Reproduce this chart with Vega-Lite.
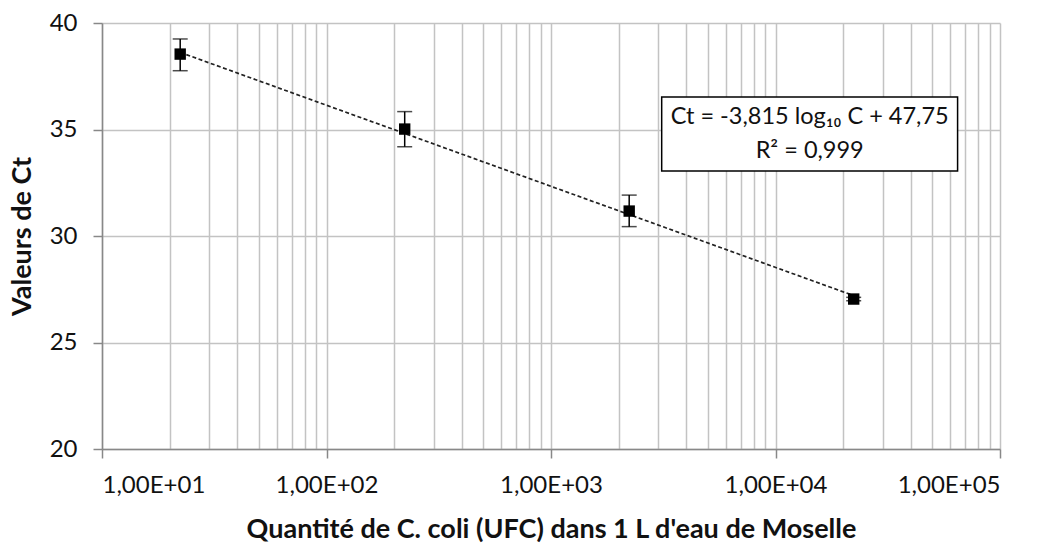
{
  "$schema": "https://vega.github.io/schema/vega-lite/v6.json",
  "width": 898,
  "height": 426,
  "autosize": "none",
  "padding": {"left": 102, "top": 23, "right": 53, "bottom": 94},
  "background": "white",
  "config": {
    "view": {"stroke": null},
    "font": "Lato",
    "axis": {"labelFont": "Lato", "titleFont": "Lato", "labelColor": "#111111", "titleColor": "#111111"}
  },
  "datasets": {
    "pts": [
      {"c": 22.3, "ct": 38.54, "lo": 37.76, "hi": 39.25},
      {"c": 223, "ct": 35.02, "lo": 34.19, "hi": 35.84},
      {"c": 2230, "ct": 31.17, "lo": 30.44, "hi": 31.92},
      {"c": 22300, "ct": 27.04, "lo": 26.96, "hi": 27.12}
    ],
    "trend": [
      {"c": 22.3, "ct": 38.62},
      {"c": 22300, "ct": 27.2}
    ],
    "box": [
      {"x1": 3112, "x2": 64730, "y1": 33.05, "y2": 36.53}
    ],
    "eq": [
      {"c": 14200, "ct": 35.59, "label": "Ct = -3,815 log₁₀ C + 47,75"},
      {"c": 14200, "ct": 33.99, "label": "R² = 0,999"}
    ]
  },
  "resolve": {"axis": {"x": "independent", "y": "independent"}},
  "layer": [
    {
      "data": {"name": "trend"},
      "mark": {"type": "line", "color": "#222222", "strokeWidth": 1.7, "strokeDash": [4, 2.5]},
      "encoding": {
        "x": {
          "field": "c", "type": "quantitative",
          "scale": {"type": "log", "domain": [10, 100000], "nice": false},
          "axis": {
            "orient": "bottom",
            "values": [10,20,30,40,50,60,70,80,90,100,200,300,400,500,600,700,800,900,1000,2000,3000,4000,5000,6000,7000,8000,9000,10000,20000,30000,40000,50000,60000,70000,80000,90000,100000],
            "grid": true, "gridColor": "#c3c3c3", "gridWidth": 1.5,
            "labels": false, "ticks": false, "domain": false, "title": null
          }
        },
        "y": {
          "field": "ct", "type": "quantitative",
          "scale": {"domain": [20, 40], "nice": false, "zero": false},
          "axis": {
            "orient": "left",
            "values": [20, 25, 30, 35, 40],
            "grid": true, "gridColor": "#c3c3c3", "gridWidth": 1.5,
            "domain": true, "domainColor": "#888888", "domainWidth": 1.5,
            "ticks": true, "tickColor": "#888888", "tickWidth": 1.5, "tickSize": 9,
            "labelFontSize": 24, "labelPadding": 16, "labelColor": "#111111",
            "title": "Valeurs de Ct", "titleFontSize": 27, "titleFontWeight": "bold", "titlePadding": 13
          }
        }
      }
    },
    {
      "data": {"name": "pts"},
      "mark": {"type": "rule", "color": "black", "strokeWidth": 1.5},
      "encoding": {
        "x": {
          "field": "c", "type": "quantitative",
          "scale": {"type": "log", "domain": [10, 100000], "nice": false},
          "axis": {
            "orient": "bottom",
            "values": [10, 100, 1000, 10000, 100000],
            "labelExpr": "'1,00E+0' + round(log(datum.value) / LN10)",
            "grid": false,
            "domain": true, "domainColor": "#888888", "domainWidth": 1.5,
            "ticks": true, "tickColor": "#888888", "tickWidth": 1.5, "tickSize": 9,
            "labelFontSize": 24, "labelPadding": 15, "labelColor": "#111111",
            "title": "Quantité de C. coli (UFC) dans 1 L d'eau de Moselle",
            "titleFontSize": 27, "titleFontWeight": "bold", "titlePadding": 19
          }
        },
        "y": {"field": "lo", "type": "quantitative", "scale": {"domain": [20, 40], "nice": false, "zero": false}, "axis": null},
        "y2": {"field": "hi"}
      }
    },
    {
      "data": {"name": "pts"},
      "mark": {"type": "tick", "orient": "horizontal", "color": "black", "thickness": 1.5, "size": 15},
      "encoding": {
        "x": {"field": "c", "type": "quantitative", "scale": {"type": "log", "domain": [10, 100000], "nice": false}, "axis": null},
        "y": {"field": "lo", "type": "quantitative", "scale": {"domain": [20, 40], "nice": false, "zero": false}, "axis": null}
      }
    },
    {
      "data": {"name": "pts"},
      "mark": {"type": "tick", "orient": "horizontal", "color": "black", "thickness": 1.5, "size": 15},
      "encoding": {
        "x": {"field": "c", "type": "quantitative", "scale": {"type": "log", "domain": [10, 100000], "nice": false}, "axis": null},
        "y": {"field": "hi", "type": "quantitative", "scale": {"domain": [20, 40], "nice": false, "zero": false}, "axis": null}
      }
    },
    {
      "data": {"name": "pts"},
      "mark": {"type": "point", "shape": "square", "filled": true, "color": "black", "size": 130, "opacity": 1},
      "encoding": {
        "x": {"field": "c", "type": "quantitative", "scale": {"type": "log", "domain": [10, 100000], "nice": false}, "axis": null},
        "y": {"field": "ct", "type": "quantitative", "scale": {"domain": [20, 40], "nice": false, "zero": false}, "axis": null}
      }
    },
    {
      "data": {"name": "box"},
      "mark": {"type": "rect", "fill": "white", "stroke": "black", "strokeWidth": 1.5},
      "encoding": {
        "x": {"field": "x1", "type": "quantitative", "scale": {"type": "log", "domain": [10, 100000], "nice": false}, "axis": null},
        "x2": {"field": "x2"},
        "y": {"field": "y1", "type": "quantitative", "scale": {"domain": [20, 40], "nice": false, "zero": false}, "axis": null},
        "y2": {"field": "y2"}
      }
    },
    {
      "data": {"name": "eq"},
      "mark": {"type": "text", "font": "Lato", "fontSize": 23.5, "color": "#111111", "align": "center", "baseline": "middle"},
      "encoding": {
        "x": {"field": "c", "type": "quantitative", "scale": {"type": "log", "domain": [10, 100000], "nice": false}, "axis": null},
        "y": {"field": "ct", "type": "quantitative", "scale": {"domain": [20, 40], "nice": false, "zero": false}, "axis": null},
        "text": {"field": "label"}
      }
    }
  ]
}
